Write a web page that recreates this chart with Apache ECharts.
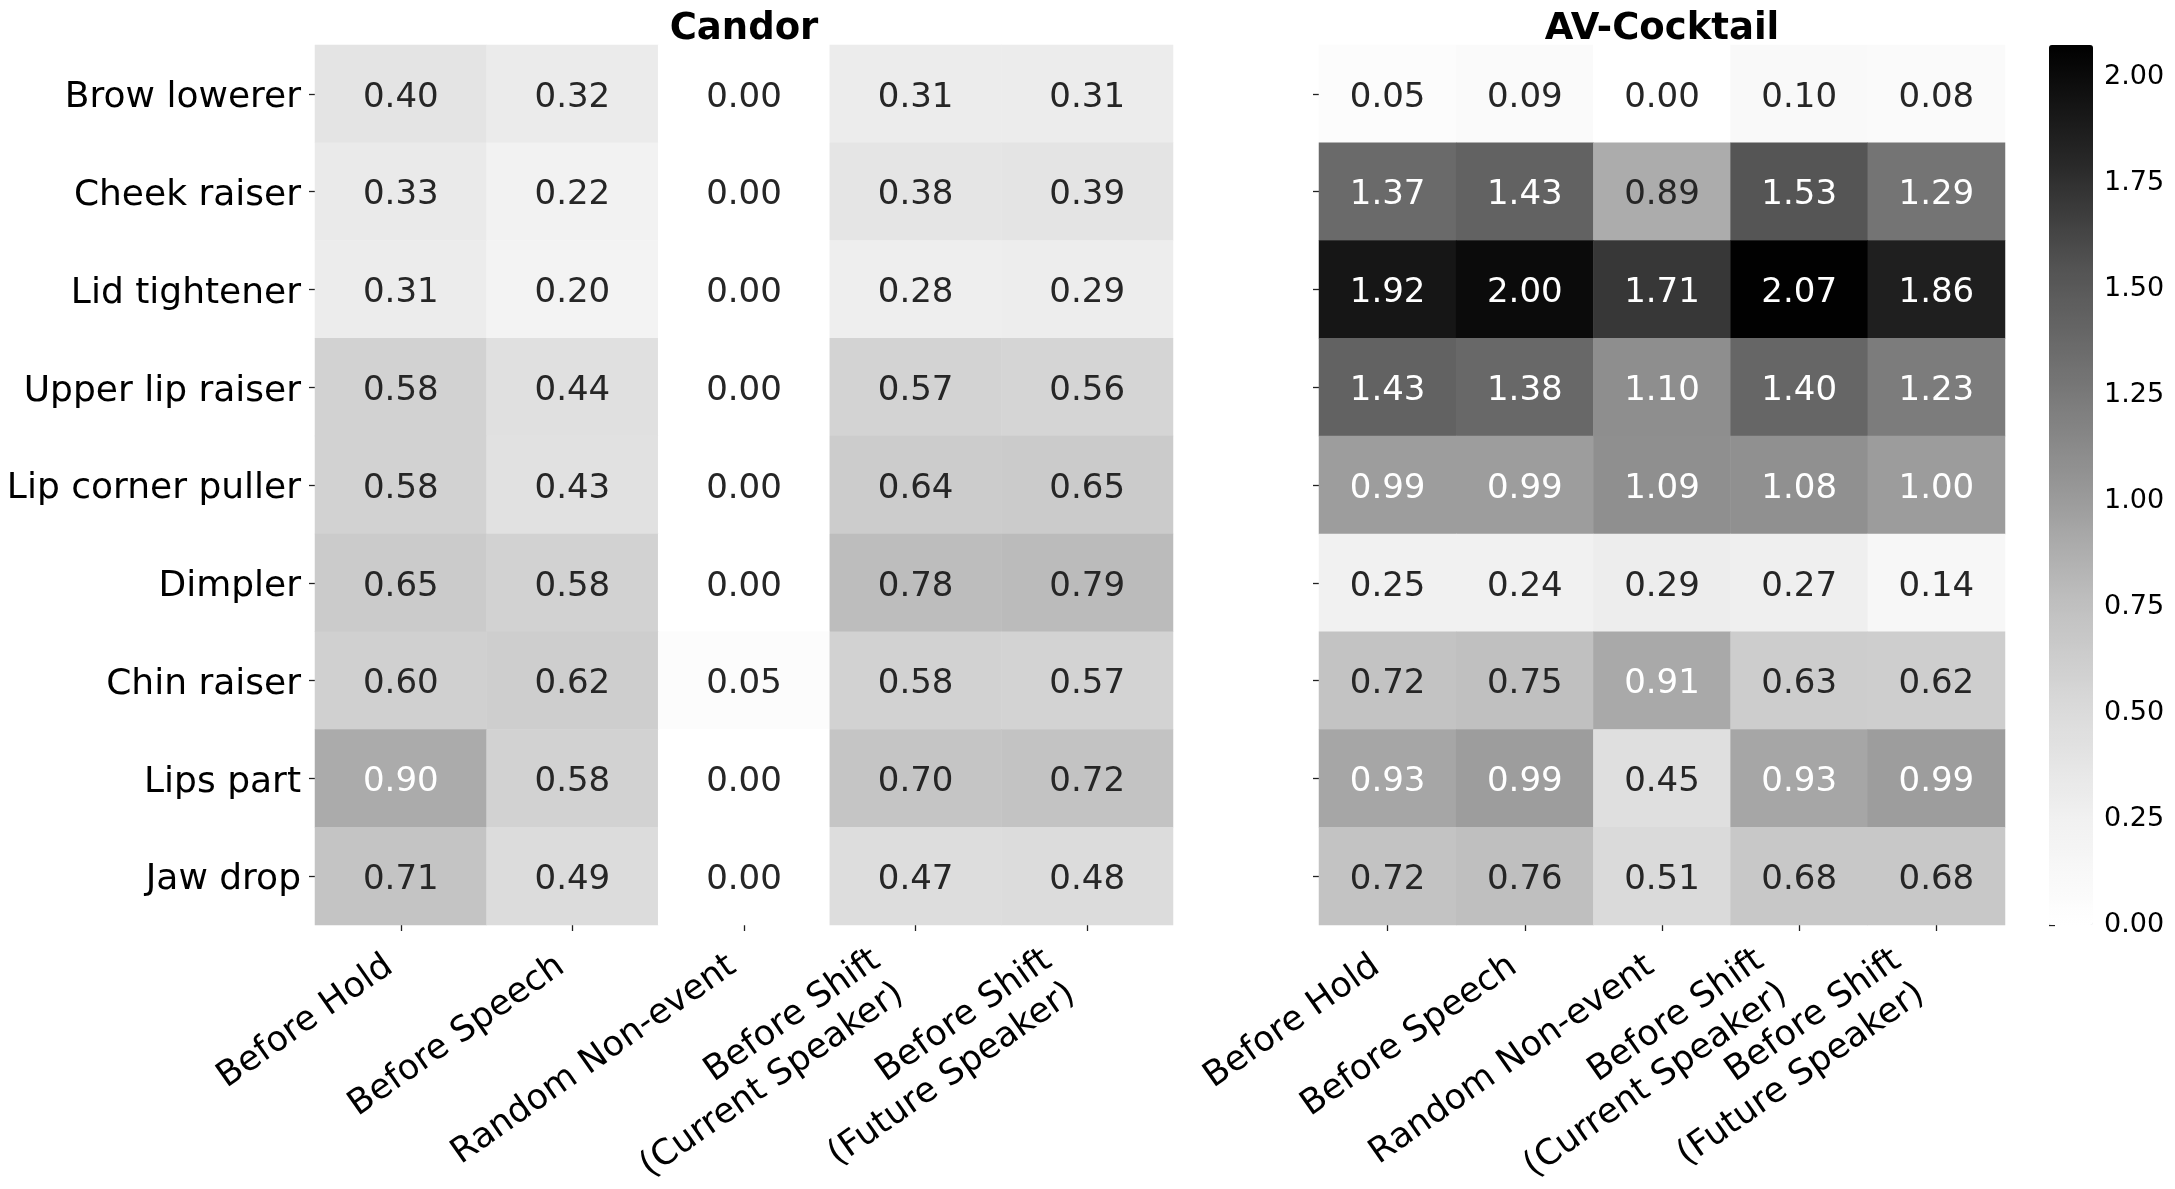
<!DOCTYPE html>
<html>
<head>
<meta charset="utf-8">
<script src="https://cdn.jsdelivr.net/npm/echarts@6/dist/echarts.min.js"></script>
<style>
html,body{margin:0;padding:0;background:#fff;}
#chart{width:2175px;height:1189px;}
</style>
</head>
<body>
<div id="chart"></div>
<script>
const rowLabels = ["Brow lowerer","Cheek raiser","Lid tightener","Upper lip raiser","Lip corner puller","Dimpler","Chin raiser","Lips part","Jaw drop"];
const colLabels = ["Before Hold","Before Speech","Random Non-event","Before Shift\n(Current Speaker)","Before Shift\n(Future Speaker)"];
const candorValues = [
  [0.40,0.32,0.00,0.31,0.31],
  [0.33,0.22,0.00,0.38,0.39],
  [0.31,0.20,0.00,0.28,0.29],
  [0.58,0.44,0.00,0.57,0.56],
  [0.58,0.43,0.00,0.64,0.65],
  [0.65,0.58,0.00,0.78,0.79],
  [0.60,0.62,0.05,0.58,0.57],
  [0.90,0.58,0.00,0.70,0.72],
  [0.71,0.49,0.00,0.47,0.48]
];
const avValues = [
  [0.05,0.09,0.00,0.10,0.08],
  [1.37,1.43,0.89,1.53,1.29],
  [1.92,2.00,1.71,2.07,1.86],
  [1.43,1.38,1.10,1.40,1.23],
  [0.99,0.99,1.09,1.08,1.00],
  [0.25,0.24,0.29,0.27,0.14],
  [0.72,0.75,0.91,0.63,0.62],
  [0.93,0.99,0.45,0.93,0.99],
  [0.72,0.76,0.51,0.68,0.68]
];
const colorbarTicks = [0,0.25,0.5,0.75,1.0,1.25,1.5,1.75,2.0];
const panelTitles = ["Candor","AV-Cocktail"];

const vMin = 0, vMax = 2.075;
const greys = ['#ffffff','#f0f0f0','#d9d9d9','#bdbdbd','#969696','#737373','#525252','#252525','#000000'];
const greyLevels = greys.map(c => parseInt(c.slice(1,3),16));

function grayAt(v){
  let t = Math.max(0, Math.min(1, (v - vMin)/(vMax - vMin)));
  const pos = t*(greyLevels.length-1);
  const i = Math.min(Math.floor(pos), greyLevels.length-2);
  const f = pos - i;
  return greyLevels[i] + (greyLevels[i+1]-greyLevels[i])*f;
}
function textColor(v){
  const c = grayAt(v)/255;
  const lin = c <= 0.03928 ? c/12.92 : Math.pow((c+0.055)/1.055, 2.4);
  return lin > 0.408 ? '#262626' : '#ffffff';
}
function buildData(values){
  const out = [];
  values.forEach((row, r) => row.forEach((v, c) => {
    out.push({value:[c, r, v], label:{color:textColor(v)}});
  }));
  return out;
}

const FONT = 'DejaVu Sans';
const ROT = 35, LH = 41, XFS = 35;
const SHIFT_X = -17;
const sinR = Math.sin(ROT*Math.PI/180), cosR = Math.cos(ROT*Math.PI/180);
function xCategoryData(){
  return colLabels.map(lbl => {
    const n = lbl.split('\n').length;
    const V = (n-1)*LH*cosR;
    const hb = n*LH;
    const pr = V*sinR - SHIFT_X*cosR;
    const k = hb/2 - V*cosR - SHIFT_X*sinR;
    return {value: lbl, textStyle:{
      align:'right', verticalAlign:'middle', fontSize:XFS, lineHeight:LH,
      fontFamily:FONT, color:'#000', padding:[0, pr, 2*k, 0]
    }};
  });
}
const xAxisCommon = {
  type:'category', data:xCategoryData(), position:'bottom',
  axisLine:{show:false},
  axisTick:{show:true, alignWithLabel:true, length:6, lineStyle:{color:'#222', width:1.3}},
  axisLabel:{interval:0, rotate:ROT, align:'right', verticalAlign:'middle', fontSize:XFS, lineHeight:LH,
    fontFamily:FONT, color:'#000', margin:30},
  splitLine:{show:false}
};
const gridCommon = {containLabel:false, outerBoundsMode:'none'};

const chart = echarts.init(document.getElementById('chart'), null, {renderer:'canvas'});
chart.setOption({
  backgroundColor:'#ffffff',
  animation:false,
  title:[
    {text:panelTitles[0], left:744, top:11, textAlign:'center', padding:0,
     textStyle:{fontFamily:FONT, fontWeight:'bold', fontSize:37, color:'#000'}},
    {text:panelTitles[1], left:1662, top:11, textAlign:'center', padding:0,
     textStyle:{fontFamily:FONT, fontWeight:'bold', fontSize:37, color:'#000'}}
  ],
  grid:[
    Object.assign({left:315, top:45, width:858, height:880}, gridCommon),
    Object.assign({left:1319, top:45, width:686, height:880}, gridCommon),
    Object.assign({left:2049, top:45, width:44, height:880}, gridCommon)
  ],
  xAxis:[
    Object.assign({gridIndex:0}, xAxisCommon),
    Object.assign({gridIndex:1}, xAxisCommon),
    {gridIndex:2, type:'value', show:false, min:0, max:1}
  ],
  yAxis:[
    {gridIndex:0, type:'category', data:rowLabels, inverse:true,
     axisLine:{show:false},
     axisTick:{show:true, alignWithLabel:true, length:6, lineStyle:{color:'#222', width:1.3}},
     axisLabel:{margin:14, formatter:v => '{a|' + v + '}',
       rich:{a:{fontSize:36, fontFamily:FONT, color:'#000', padding:[8,0,0,0]}}},
     splitLine:{show:false}},
    {gridIndex:1, type:'category', data:rowLabels, inverse:true,
     axisLine:{show:false},
     axisTick:{show:true, alignWithLabel:true, length:6, lineStyle:{color:'#222', width:1.3}},
     axisLabel:{show:false},
     splitLine:{show:false}},
    {gridIndex:2, type:'value', position:'right', min:vMin, max:vMax,
     axisLine:{show:false},
     axisTick:{show:true, length:6, lineStyle:{color:'#222', width:1.3}, customValues:colorbarTicks},
     axisLabel:{fontSize:27, fontFamily:FONT, color:'#000', margin:11, customValues:colorbarTicks,
       formatter:v => v.toFixed(2)},
     splitLine:{show:false}}
  ],
  visualMap:{
    type:'continuous', min:vMin, max:vMax, seriesIndex:[0,1],
    orient:'vertical', left:2049, top:45, itemWidth:44, itemHeight:880,
    padding:0, calculable:false, hoverLink:false, text:null, showLabel:false,
    inRange:{color:greys}
  },
  series:[
    {type:'heatmap', xAxisIndex:0, yAxisIndex:0, data:buildData(candorValues),
     itemStyle:{borderWidth:0},
     label:{show:true, fontSize:34, fontFamily:FONT, offset:[0,4], formatter:p => p.value[2].toFixed(2)},
     emphasis:{disabled:true}},
    {type:'heatmap', xAxisIndex:1, yAxisIndex:1, data:buildData(avValues),
     itemStyle:{borderWidth:0},
     label:{show:true, fontSize:34, fontFamily:FONT, offset:[0,4], formatter:p => p.value[2].toFixed(2)},
     emphasis:{disabled:true}}
  ]
});
</script>
</body>
</html>
